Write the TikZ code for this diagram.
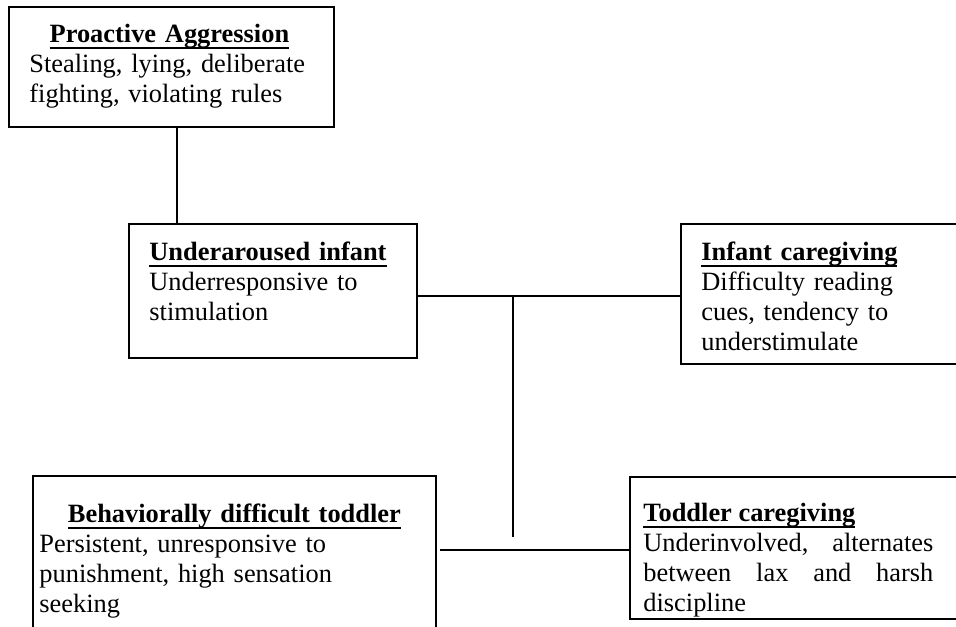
\documentclass[tikz,border=0pt]{standalone}
\usepackage{fontspec}
\setmainfont{Liberation Serif}
\usetikzlibrary{positioning}
\newcommand{\boxtitle}[1]{\setbox0\hbox{\textbf{#1}}\rlap{\rule[-3pt]{\wd0}{1pt}}\box0}
\tikzset{
	box/.style={draw, line width=1.1pt, inner sep=0pt, outer sep=0pt, anchor=north west},
	txt/.style={inner sep=0pt, align=left, font=\fontsize{13.2pt}{15pt}\selectfont},
	link/.style={line width=1.1pt}
}
\begin{document}
\begin{tikzpicture}[x=0.5pt, y=-0.5pt]
	\useasboundingbox (0,0) rectangle (956,626);
	\node[box, minimum width=162.5pt, minimum height=60pt] (pro) at (9,7) {};
	\node[box, minimum width=144pt, minimum height=67pt] (inf) at (129,224) {};
	\node[box, minimum width=145pt, minimum height=70pt] (icare) at (681,224) {};
	\node[box, minimum width=201.5pt, minimum height=90pt] (tod) at (33,476) {};
	\node[box, minimum width=170pt, minimum height=71pt] (tcare) at (630,477) {};
	\node[txt, text width=140pt, below right=8.5pt and 10pt of pro.north west] (protext)
		{\makebox[\linewidth]{\boxtitle{Proactive Aggression}}\\ Stealing, lying, deliberate\\ fighting, violating rules};
	\node[txt, text width=125pt, below right=9pt and 10pt of inf.north west] (inftext)
		{\boxtitle{Underaroused infant}\\ Underresponsive to\\ stimulation};
	\node[txt, text width=120pt, below right=9pt and 10pt of icare.north west] (icaretext)
		{\boxtitle{Infant caregiving}\\ Difficulty reading\\ cues, tendency to\\ understimulate};
	\node[txt, text width=195pt, below right=14pt and 3pt of tod.north west] (todtext)
		{\makebox[\linewidth]{\boxtitle{Behaviorally difficult toddler}}\\ Persistent, unresponsive to\\ punishment, high sensation\\ seeking};
	\node[txt, text width=145pt, align=justify, below right=13pt and 6.5pt of tcare.north west] (tcaretext)
		{\boxtitle{Toddler caregiving}\linebreak Underinvolved, alternates\linebreak between lax and harsh\linebreak discipline};
	\coordinate (pj) at (177,0);
	\coordinate (ij) at (0,296);
	\coordinate (tj) at (513,296);
	\coordinate (te) at (513,537);
	\coordinate (ts) at (440,550);
	\draw[link] (pro.south -| pj) -- (inf.north -| pj);
	\draw[link] (inf.east |- ij) -- (icare.west |- ij);
	\draw[link] (tj) -- (te);
	\draw[link] (ts) -- (tcare.west |- ts);
\end{tikzpicture}
\end{document}
